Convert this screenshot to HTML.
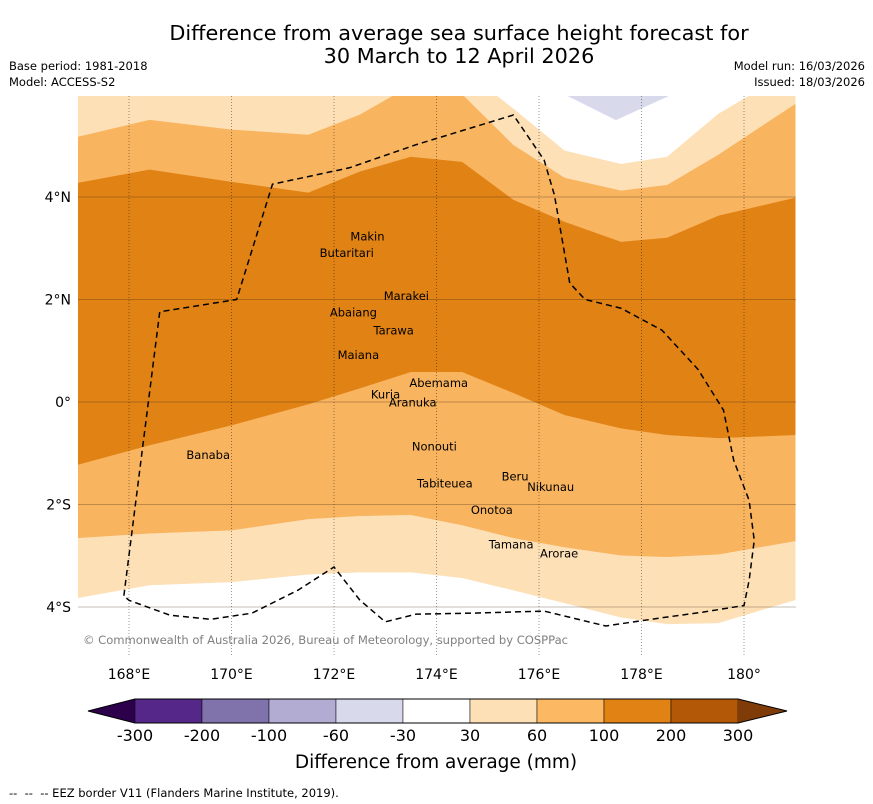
<!DOCTYPE html>
<html><head><meta charset="utf-8"><style>
body{margin:0;background:#fff;font-family:"DejaVu Sans","Liberation Sans",sans-serif;}
#wrap{position:relative;width:873px;height:804px;overflow:hidden;}
.t{position:absolute;white-space:nowrap;color:#000;}
</style></head><body>
<div id="wrap">
<div class="t" style="left:0;width:918px;text-align:center;top:22px;font-size:20.8px;line-height:23px">Difference from average sea surface height forecast for<br>30 March to 12 April 2026</div>
<div class="t" style="left:9px;top:59px;font-size:11.5px">Base period: 1981-2018</div>
<div class="t" style="left:9px;top:75px;font-size:11.5px">Model: ACCESS-S2</div>
<div class="t" style="right:8px;top:59px;font-size:11.5px;text-align:right">Model run: 16/03/2026</div>
<div class="t" style="right:8px;top:75px;font-size:11.5px;text-align:right">Issued: 18/03/2026</div>
<svg id="map" width="873" height="804" style="position:absolute;left:0;top:0"></svg>
<div class="t" style="left:9px;top:786px;font-size:11.5px">--&nbsp; --&nbsp; -- EEZ border V11 (Flanders Marine Institute, 2019).</div>
</div>
<script>
const lonGrid=[167,168.4,170,171.5,172.5,173.5,174.5,175.5,176.5,177.6,178.5,179.5,181];
const lat30Top=[6.5,6.5,6.5,6.5,6.5,6.5,6.5,5.72,4.9,4.64,4.78,5.62,6.5];
const lat60Top=[5.17,5.5,5.31,5.21,5.6,6.17,6.0,5.01,4.37,4.12,4.23,4.82,5.81];
const lat100Top=[4.27,4.53,4.29,4.08,4.49,4.78,4.68,3.94,3.51,3.12,3.2,3.63,3.98];
const lat100Bot=[-1.22,-0.84,-0.45,-0.04,0.27,0.59,0.59,0.18,-0.25,-0.51,-0.64,-0.7,-0.64];
const lat60Bot=[-2.65,-2.56,-2.5,-2.28,-2.22,-2.2,-2.4,-2.65,-2.83,-2.99,-3.02,-2.97,-2.71];
const lat30Bot=[-3.82,-3.57,-3.51,-3.36,-3.32,-3.32,-3.43,-3.67,-3.92,-4.2,-4.33,-4.31,-3.86];
const negLon=[176.5,177.5,178.6];
const negLat=[6.0,5.5,6.0];
const eezLon=[167.9,168.6,170.1,170.8,172.3,173.6,175.5,176.1,176.3,176.6,176.9,177.6,178.4,179.1,179.6,179.8,180.1,180.2,180.1,180.0,179.2,178.4,177.3,176.1,174.7,173.6,173.0,172.5,172.0,171.3,170.4,169.6,168.8,168.0,167.9];
const eezLat=[-3.78,1.76,2.0,4.25,4.57,5.02,5.6,4.72,4.04,2.32,2.0,1.83,1.4,0.64,-0.16,-1.14,-1.92,-2.7,-3.48,-3.97,-4.1,-4.21,-4.37,-4.08,-4.12,-4.14,-4.29,-3.86,-3.22,-3.67,-4.12,-4.24,-4.16,-3.87,-3.78];
const lonTicks=[168,170,172,174,176,178,180];
const lonLabels=["168°E","170°E","172°E","174°E","176°E","178°E","180°"];
const latTicks=[4,2,0,-2,-4];
const latLabels=["4°N","2°N","0°","2°S","4°S"];
const islandNames=["Makin","Butaritari","Marakei","Abaiang","Tarawa","Maiana","Abemama","Kuria","Aranuka","Nonouti","Banaba","Tabiteuea","Beru","Nikunau","Onotoa","Tamana","Arorae"];
const islandLon=[172.32,171.72,172.97,171.92,172.77,172.07,173.47,172.72,173.07,173.52,169.12,173.62,175.27,175.77,174.67,175.02,176.02];
const islandLat=[3.15,2.83,1.99,1.67,1.32,0.84,0.29,0.07,-0.09,-0.95,-1.11,-1.67,-1.53,-1.74,-2.19,-2.86,-3.03];
const cbLevels=["-300","-200","-100","-60","-30","30","60","100","200","300"];
const cbColors=["#542788","#8073ac","#b2abd2","#d8daeb","#ffffff","#fee0b6","#fdb863","#e08214","#b35806"];
const NS="http://www.w3.org/2000/svg";
const svg=document.getElementById('map');
const X=lon=>129+(lon-168)*51.25;
const Y=lat=>402-lat*51.25;
const PL=78,PR=796,PT=96,PB=657;
function mk(t,a){const e=document.createElementNS(NS,t);for(const k in a)e.setAttribute(k,a[k]);return e;}
const defs=mk('defs',{});const cp=mk('clipPath',{id:'clip'});cp.appendChild(mk('rect',{x:PL,y:PT,width:PR-PL,height:PB-PT}));defs.appendChild(cp);svg.appendChild(defs);
const g=mk('g',{'clip-path':'url(#clip)'});svg.appendChild(g);
function band(top,bot,col,name){
  let pts=lonGrid.map((l,i)=>X(l)+','+Y(top[i]));
  for(let i=lonGrid.length-1;i>=0;i--)pts.push(X(lonGrid[i])+','+Y(bot[i]));
  const p=mk('polygon',{points:pts.join(' '),fill:col,stroke:col,'stroke-width':0.5});
  
  
  g.appendChild(p);
}
band(lat30Top,lat30Bot,'#fde0b6','band-30-60');
band(lat60Top,lat60Bot,'#f9b45f','band-60-100');
band(lat100Top,lat100Bot,'#e08214','band-100-200');
const neg=mk('polygon',{points:negLon.map((l,i)=>X(l)+','+Y(negLat[i])).join(' '),fill:'#d8daeb'});


g.appendChild(neg);
lonTicks.forEach((l,i)=>{
  const ln=mk('line',{x1:X(l),x2:X(l),y1:PT,y2:PB,stroke:'rgba(0,0,0,0.4)','stroke-width':1,'stroke-dasharray':'1,2'});
  
  
  g.appendChild(ln);
  const t=mk('text',{x:X(l),y:679,'text-anchor':'middle','font-size':14,'font-family':'DejaVu Sans, Liberation Sans, sans-serif'});
  t.textContent=lonLabels[i];
  
  
  svg.appendChild(t);
});
latTicks.forEach((l,i)=>{
  const ln=mk('line',{x1:PL,x2:PR,y1:Y(l),y2:Y(l),stroke:'rgba(60,40,20,0.3)','stroke-width':1});
  
  
  g.appendChild(ln);
  const t=mk('text',{x:71,y:Y(l)+5,'text-anchor':'end','font-size':14,'font-family':'DejaVu Sans, Liberation Sans, sans-serif'});
  t.textContent=latLabels[i];
  
  
  svg.appendChild(t);
});
const eez=mk('polyline',{points:eezLon.map((l,i)=>X(l)+','+Y(eezLat[i])).join(' '),fill:'none',stroke:'#000','stroke-width':1.5,'stroke-dasharray':'6,4'});


g.appendChild(eez);
islandNames.forEach((n,i)=>{
  const t=mk('text',{x:X(islandLon[i]),y:Y(islandLat[i]),'font-size':11.5,'font-family':'DejaVu Sans, Liberation Sans, sans-serif'});
  t.textContent=n;
  
  
  g.appendChild(t);
});
const cr=mk('text',{x:83,y:644,'font-size':11.6,fill:'#808080','font-family':'DejaVu Sans, Liberation Sans, sans-serif',textLength:485});
cr.textContent='© Commonwealth of Australia 2026, Bureau of Meteorology, supported by COSPPac';


svg.appendChild(cr);
const cbL=135,cbW=67,cbT=699,cbH=24;
const lt=mk('polygon',{points:`88,711 ${cbL},${cbT} ${cbL},${cbT+cbH}`,fill:'#2d004b'});


svg.appendChild(lt);
cbColors.forEach((c,i)=>{
  const r=mk('rect',{x:cbL+i*cbW,y:cbT,width:cbW,height:cbH,fill:c,stroke:'#000','stroke-width':0.5});
  
  
  svg.appendChild(r);
});
const cbR=cbL+cbColors.length*cbW;
const rt=mk('polygon',{points:`${cbR},${cbT} 787,711 ${cbR},${cbT+cbH}`,fill:'#7f3b08'});


svg.appendChild(rt);
svg.appendChild(mk('polygon',{points:`88,711 ${cbL},${cbT} ${cbR},${cbT} 787,711 ${cbR},${cbT+cbH} ${cbL},${cbT+cbH}`,fill:'none',stroke:'#000','stroke-width':1}));
cbLevels.forEach((v,i)=>{
  const t=mk('text',{x:cbL+i*cbW,y:741,'text-anchor':'middle','font-size':16,'font-family':'DejaVu Sans, Liberation Sans, sans-serif'});
  t.textContent=v;
  
  
  svg.appendChild(t);
});
const ct=mk('text',{x:436,y:768,'text-anchor':'middle','font-size':18.5,'font-family':'DejaVu Sans, Liberation Sans, sans-serif'});
ct.textContent='Difference from average (mm)';


svg.appendChild(ct);
</script>
</body></html>
